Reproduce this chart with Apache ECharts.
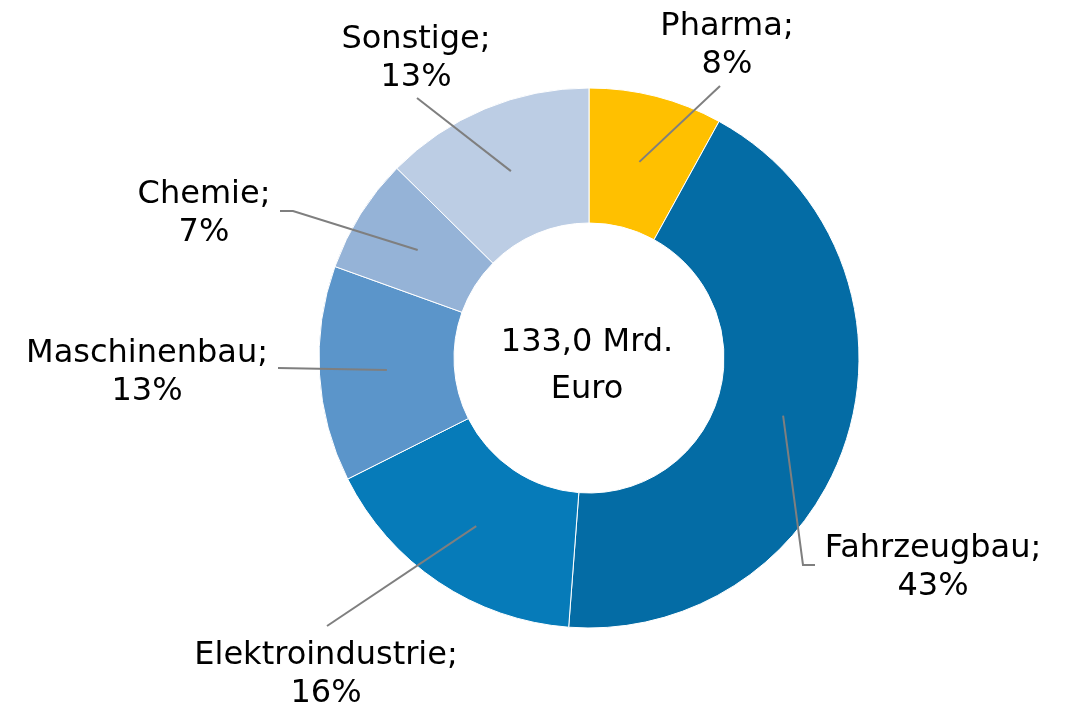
<!DOCTYPE html>
<html>
<head>
<meta charset="utf-8">
<script src="https://cdn.jsdelivr.net/npm/echarts@6/dist/echarts.min.js"></script>
<style>
html, body { margin: 0; padding: 0; background: #fff; }
#chart { width: 1069px; height: 704px; }
</style>
</head>
<body>
<div id="chart"></div>
<script>
// Umsatz nach Branchen (Anteile in %)
const categories = ['Pharma', 'Fahrzeugbau', 'Elektroindustrie', 'Maschinenbau', 'Chemie', 'Sonstige'];
const shares = [8.0, 43.2, 16.4, 12.9, 6.9, 12.6];
const totalText = '133,0 Mrd.\nEuro';

const colors = ['#FFC000', '#046CA5', '#067BB9', '#5B95CA', '#95B3D7', '#BCCDE4'];

// where the label blocks sit and how the leader lines bend (pixels)
const labelPos = [[727, 46], [933, 568], [326, 675], [147, 373], [204, 214], [416, 59]];
const lineBends = [
    [[720, 86]],
    [[803, 565], [815, 565]],
    [[327, 626]],
    [[278, 368]],
    [[293, 211], [280, 211]],
    [[417, 98]]
];

const cx = 589, cy = 358, rIn = 135, rOut = 270;
const font = '"DejaVu Sans", Verdana, sans-serif';

let chart = echarts.init(document.getElementById('chart'));

let pieData = categories.map((c, i) => ({ name: c, value: shares[i] }));

let option = {
    animation: false,
    color: colors,
    graphic: [{
        type: 'text',
        x: 587,
        y: 366,
        style: {
            text: totalText,
            font: '32px ' + font,
            fill: '#000',
            align: 'center',
            verticalAlign: 'middle',
            lineHeight: 47
        }
    }],
    series: [{
        // the ring itself
        type: 'pie',
        z: 2,
        center: [cx, cy],
        radius: [rIn, rOut],
        startAngle: 90,
        clockwise: true,
        silent: true,
        itemStyle: { borderColor: '#fff', borderWidth: 1 },
        label: { show: false },
        labelLine: { show: false },
        data: pieData
    }, {
        // transparent copy on top, carries labels and leader lines
        type: 'pie',
        z: 5,
        center: [cx, cy],
        radius: [rIn, rOut],
        startAngle: 90,
        clockwise: true,
        silent: true,
        avoidLabelOverlap: false,
        itemStyle: { color: 'rgba(0,0,0,0)', borderWidth: 0 },
        label: {
            show: true,
            position: 'outside',
            fontFamily: font,
            fontSize: 32,
            color: '#000',
            lineHeight: 38,
            formatter: function (p) {
                return p.name + ';\n' + Math.round(p.percent) + '%';
            }
        },
        labelLine: {
            show: true,
            lineStyle: { color: '#7f7f7f', width: 2 }
        },
        labelLayout: function (p) {
            let i = p.dataIndex;
            let p0 = p.labelLinePoints[0];
            let k = (rIn + rOut) / 2 / rOut;
            let start = [cx + (p0[0] - cx) * k, cy + (p0[1] - cy) * k];
            return {
                x: labelPos[i][0],
                y: labelPos[i][1],
                align: 'center',
                verticalAlign: 'middle',
                labelLinePoints: [start].concat(lineBends[i])
            };
        },
        data: pieData
    }]
};

chart.setOption(option);
</script>
</body>
</html>
